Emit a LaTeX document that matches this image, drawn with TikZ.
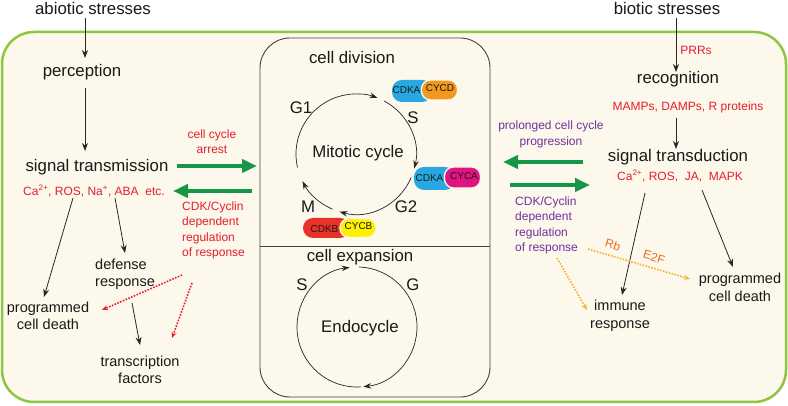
\documentclass[tikz,border=0pt]{standalone}
\usepackage{fontspec}
\setmainfont{Liberation Sans}
\usetikzlibrary{arrows.meta}
\definecolor{frameg}{RGB}{141,198,63}
\definecolor{cream}{RGB}{253,248,236}
\definecolor{myred}{RGB}{228,30,45}
\definecolor{mypurple}{RGB}{112,48,160}
\definecolor{myorange}{RGB}{228,110,30}
\definecolor{dotorange}{RGB}{246,180,50}
\definecolor{mygreen}{RGB}{22,150,72}
\definecolor{cdkblue}{RGB}{40,168,224}
\definecolor{cycorange}{RGB}{243,152,30}
\definecolor{cycmag}{RGB}{224,20,128}
\definecolor{cdkred}{RGB}{232,50,40}
\definecolor{cycyellow}{RGB}{255,240,0}
\tikzset{
  lbl/.style={font=\fontsize{16.8}{19}\selectfont, inner sep=0pt, align=center, text=black!90},
  slbl/.style={font=\fontsize{14.5}{17.5}\selectfont, inner sep=0pt, align=center, text=black!90},
  redtxt/.style={font=\fontsize{12}{15.3}\selectfont, inner sep=0pt, align=center, text=myred},
  purtxt/.style={font=\fontsize{12}{15.3}\selectfont, inner sep=0pt, align=center, text=mypurple},
  blk/.style={-{Stealth[length=8pt,width=6pt]}, line width=0.8pt, black!85},
  cyc/.style={-{Stealth[length=8pt,width=5.5pt]}, line width=0.7pt, black!85},
  garr/.style={-{Triangle[length=15pt,width=13pt]}, line width=4.5pt, mygreen},
  rdot/.style={dash pattern=on 1.6pt off 1.4pt, line width=1.6pt, myred, -{Stealth[length=6pt,width=5pt]}},
  odot/.style={dash pattern=on 1.6pt off 1.4pt, line width=1.6pt, dotorange, -{Stealth[length=6pt,width=5pt]}},
  pill/.style={rounded corners=10pt, inner sep=0pt, draw=none},
  fpill/.style={rounded corners=9pt, inner sep=0pt, draw=cream, line width=1.3pt},
  pilltxt/.style={font=\fontsize{10}{11}\selectfont, inner sep=0pt, text=black!90},
  smallor/.style={font=\fontsize{12}{14}\selectfont, text=myorange, rotate=-17, inner sep=0pt},
}
\begin{document}
\begin{tikzpicture}[x=1pt,y=1pt]
\useasboundingbox (0,0) rectangle (788,406);
\fill[white] (0,0) rectangle (788,406);
% outer frame
\draw[frameg, line width=2.5pt, fill=cream, rounded corners=32pt] (2,4) rectangle (786,374);
% central box
\draw[black!75, line width=0.9pt, fill=cream, rounded corners=30pt] (260,9) rectangle (490,368);
\draw[black!75, line width=0.9pt] (260,160) -- (490,160);

% ---- cell division ----
\node[lbl] (celldiv) at (352,348) {cell division};
\node[lbl] (mitotic) at (358,253) {Mitotic cycle};
\coordinate (mc) at (356,252);
\draw[cyc] ([shift={(193:60)}]mc) arc[start angle=193, end angle=69, radius=60];
\draw[cyc] ([shift={(62:60)}]mc) arc[start angle=62, end angle=-14, radius=60];
\draw[cyc] ([shift={(-23:60)}]mc) arc[start angle=-23, end angle=-106, radius=60];
\draw[cyc] ([shift={(-113:60)}]mc) arc[start angle=-113, end angle=-153, radius=60];
\node[lbl] (g1) at (301,298) {G1};
\node[lbl] (s1) at (413,288) {S};
\node[lbl] (g2) at (406,199) {G2};
\node[lbl] (m1) at (308,199) {M};

% pills
\node[pill, fill=cdkblue, minimum width=40pt, minimum height=22pt] (cdka1) at (412,315) {};
\node[fpill, fill=cycorange, minimum width=36pt, minimum height=20pt] (cycd) at (439.5,316) {};
\node[pilltxt] (tcdka1) at (406.5,315.5) {CDKA};
\node[pilltxt] (tcycd) at (440,317.5) {CYCD};

\node[pill, fill=cdkblue, minimum width=41pt, minimum height=23pt] (cdka2) at (434.5,227.5) {};
\node[fpill, fill=cycmag, minimum width=36pt, minimum height=21pt] (cyca) at (462.5,228.5) {};
\node[pilltxt] (tcdka2) at (429.5,228) {CDKA};
\node[pilltxt] (tcyca) at (464,230) {CYCA};

\node[pill, fill=cdkred, minimum width=47pt, minimum height=20pt] (cdkb) at (326.5,178) {};
\node[fpill, fill=cycyellow, minimum width=36pt, minimum height=19pt] (cycb) at (358,178) {};
\node[pilltxt] (tcdkb) at (324.5,176.5) {CDKB};
\node[pilltxt] (tcycb) at (358.5,179.5) {CYCB};

% ---- cell expansion ----
\node[lbl] (cellexp) at (360,149) {cell expansion};
\node[lbl] (endo) at (360,78) {Endocycle};
\coordinate (ec) at (357,79);
\draw[cyc] ([shift={(88:60)}]ec) arc[start angle=88, end angle=-84, radius=60];
\draw[cyc] ([shift={(-86:60)}]ec) arc[start angle=-86, end angle=-263, radius=60];
\node[lbl] (s2) at (302,121) {S};
\node[lbl] (g3) at (413,121) {G};

% ---- left: abiotic ----
\node[lbl] (abio) at (93,397) {abiotic stresses};
\node[lbl] (percep) at (82,334) {perception};
\node[lbl] (sigtm) at (97,239) {signal transmission};
\node[redtxt] (ionsl) at (94,215) {Ca\textsuperscript{2+}, ROS, Na\textsuperscript{+}, ABA~ etc.};
\node[redtxt] (arrest) at (212,264.5) {cell cycle\\arrest};
\node[redtxt, align=left, anchor=west] (cdkl) at (182,175.5) {CDK/Cyclin\\dependent\\regulation\\of response};
\node[slbl, align=left, anchor=west] (defense) at (95,131.5) {defense\\response};
\node[slbl] (pcdl) at (48,90) {programmed\\cell death};
\node[slbl] (tf) at (140,36) {transcription\\factors};

\coordinate (a1s) at (85,388); \coordinate (a1e) at (85,348);
\draw[blk] (a1s) -- (a1e);
\coordinate (a2s) at (85,318); \coordinate (a2e) at (85,255);
\draw[blk] (a2s) -- (a2e);
\coordinate (a3s) at (73,208); \coordinate (a3e) at (44,109);
\draw[blk] (a3s) -- (a3e);
\coordinate (a4s) at (115,208); \coordinate (a4e) at (125,153);
\draw[blk] (a4s) -- (a4e);
\coordinate (a5s) at (132,103); \coordinate (a5e) at (140,61);
\draw[blk] (a5s) -- (a5e);
\coordinate (r1s) at (182,131); \coordinate (r1e) at (102,96);
\draw[rdot] (r1s) -- (r1e);
\coordinate (r2s) at (192,123); \coordinate (r2e) at (172,68);
\draw[rdot] (r2s) -- (r2e);
\coordinate (g1s) at (177,240); \coordinate (g1e) at (257,240);
\draw[garr] (g1s) -- (g1e);
\coordinate (g2s) at (252,215); \coordinate (g2e) at (173,215);
\draw[garr] (g2s) -- (g2e);

% ---- right: biotic ----
\node[lbl] (bio) at (667,397) {biotic stresses};
\node[redtxt] (prr) at (696,356) {PRRs};
\node[lbl] (recog) at (678,327) {recognition};
\node[redtxt] (mamp) at (688,299) {MAMPs, DAMPs, R proteins};
\node[lbl] (sigtd) at (678,249) {signal transduction};
\node[redtxt] (ionsr) at (680,230) {Ca\textsuperscript{2+}, ROS,~ JA,~ MAPK};
\node[purtxt] (prolong) at (551,271.5) {prolonged cell cycle\\progression};
\node[purtxt, align=left, anchor=west] (cdkr) at (515,180.5) {CDK/Cyclin\\dependent\\regulation\\of response};
\node[slbl] (immune) at (620,90) {immune\\response};
\node[slbl] (pcdr) at (740,118.5) {programmed\\cell death};
\node[smallor] (rb) at (613,161) {Rb};
\node[smallor] (e2f) at (654,149) {E2F};

\coordinate (b1s) at (676,388); \coordinate (b1e) at (676,334);
\draw[blk] (b1s) -- (b1e);
\coordinate (b2s) at (676,288); \coordinate (b2e) at (676,257);
\draw[blk] (b2s) -- (b2e);
\coordinate (b3s) at (645,213); \coordinate (b3e) at (622,111);
\draw[blk] (b3s) -- (b3e);
\coordinate (b4s) at (702,216); \coordinate (b4e) at (733,139);
\draw[blk] (b4s) -- (b4e);
\coordinate (o1s) at (588,157); \coordinate (o1e) at (690,127);
\draw[odot] (o1s) -- (o1e);
\coordinate (o2s) at (557,148); \coordinate (o2e) at (587,96);
\draw[odot] (o2s) -- (o2e);
\coordinate (g3s) at (583,244); \coordinate (g3e) at (503,244);
\draw[garr] (g3s) -- (g3e);
\coordinate (g4s) at (510,221); \coordinate (g4e) at (590,221);
\draw[garr] (g4s) -- (g4e);
\end{tikzpicture}
\end{document}
